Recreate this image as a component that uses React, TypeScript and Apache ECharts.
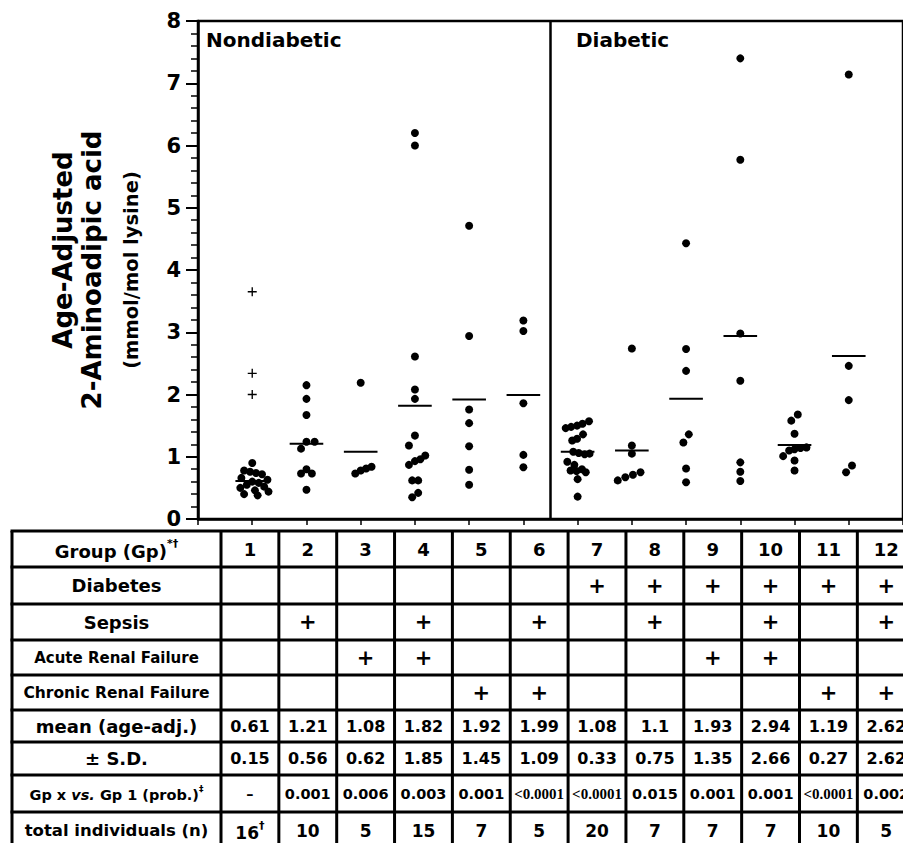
import React, { useEffect, useRef } from "react";
import * as echarts from "echarts";

// ---------- data ----------
const groupNumbers = ["1", "2", "3", "4", "5", "6", "7", "8", "9", "10", "11", "12"];

const groupValues: number[][] = [
  [0.9, 0.78, 0.76, 0.74, 0.72, 0.66, 0.63, 0.6, 0.58, 0.55, 0.52, 0.5, 0.46, 0.44, 0.4, 0.38],
  [2.15, 1.93, 1.67, 1.24, 1.24, 1.13, 0.8, 0.73, 0.73, 0.47],
  [2.19, 0.84, 0.81, 0.78, 0.73],
  [6.2, 6.0, 2.61, 2.08, 1.93, 1.34, 1.18, 1.02, 0.96, 0.93, 0.87, 0.62, 0.62, 0.42, 0.35],
  [4.71, 2.94, 1.76, 1.54, 1.17, 0.79, 0.55],
  [3.19, 3.02, 1.86, 1.03, 0.83],
  [1.57, 1.53, 1.5, 1.48, 1.46, 1.36, 1.29, 1.26, 1.08, 1.06, 1.04, 1.05, 0.92, 0.87, 0.8, 0.78, 0.77, 0.75, 0.64, 0.36],
  [2.74, 1.18, 1.05, 0.75, 0.71, 0.67, 0.62],
  [4.43, 2.73, 2.38, 1.36, 1.23, 0.81, 0.59],
  [7.4, 5.77, 2.98, 2.22, 0.91, 0.76, 0.61],
  [1.68, 1.58, 1.37, 1.15, 1.14, 1.12, 1.1, 1.01, 0.94, 0.78],
  [7.14, 2.46, 1.91, 0.86, 0.75],
];

// horizontal jitter of each point, in group units
const groupOffsets: number[][] = [
  [0, -0.15, -0.04, 0.07, 0.18, -0.2, 0.28, 0, 0.12, -0.1, 0.22, -0.22, 0.05, 0.3, -0.15, 0.1],
  [0, 0, 0, 0, 0.15, -0.1, 0, -0.1, 0.1, 0],
  [0, 0.2, 0.1, 0, -0.1],
  [0, 0, 0, 0, 0, 0, -0.11, 0.19, 0.1, 0, -0.11, -0.05, 0.06, 0.06, -0.05],
  [0, 0, 0, 0, 0, 0, 0],
  [0, 0, 0, 0, 0],
  [0.21, 0.09, -0.01, -0.12, -0.22, 0.1, -0.01, -0.1, -0.08, 0.02, 0.13, 0.22, -0.19, -0.06, 0.08, -0.13, -0.02, 0.15, 0, 0],
  [0, 0, 0, 0.16, 0.02, -0.12, -0.26],
  [0, 0, 0, 0.05, -0.05, 0, 0],
  [0, 0, 0, 0, 0, 0, 0],
  [0.06, -0.06, 0, 0.22, 0.11, 0, -0.1, -0.21, 0, 0],
  [0, 0, 0, 0.06, -0.05],
];

const outliersGroup1 = [3.65, 2.34, 2.0];

const meanValues = [0.61, 1.21, 1.08, 1.82, 1.92, 1.99, 1.08, 1.1, 1.93, 2.94, 1.19, 2.62];
const meanLabels = ["0.61", "1.21", "1.08", "1.82", "1.92", "1.99", "1.08", "1.1", "1.93", "2.94", "1.19", "2.62"];
const sdLabels = ["0.15", "0.56", "0.62", "1.85", "1.45", "1.09", "0.33", "0.75", "1.35", "2.66", "0.27", "2.62"];
const pLabels = ["–", "0.001", "0.006", "0.003", "0.001", "<0.0001", "<0.0001", "0.015", "0.001", "0.001", "<0.0001", "0.002"];
const nLabels = ["16", "10", "5", "15", "7", "5", "20", "7", "7", "7", "10", "5"];

const diabetesFlags = [0, 0, 0, 0, 0, 0, 1, 1, 1, 1, 1, 1];
const sepsisFlags = [0, 1, 0, 1, 0, 1, 0, 1, 0, 1, 0, 1];
const arfFlags = [0, 0, 1, 1, 0, 0, 0, 0, 1, 1, 0, 0];
const crfFlags = [0, 0, 0, 0, 1, 1, 0, 0, 0, 0, 1, 1];

const yTickMax = 8;

// ---------- layout ----------
const FONT = "'DejaVu Sans', sans-serif";
const SERIF = "'Liberation Serif', 'DejaVu Serif', serif";
const W = 903;
const H = 843;
const TABLE_LEFT = 12;
const FIRST_COL_RIGHT = 221;
const COL_W = 57.85;
const ROW_EDGES = [531, 567, 604, 640, 675, 710, 742, 775, 812, 849];

function buildTable(): any[] {
  const els: any[] = [];
  const colEdges: number[] = [TABLE_LEFT];
  for (let i = 0; i <= 12; i++) colEdges.push(FIRST_COL_RIGHT + i * COL_W);
  const lw = 3;
  ROW_EDGES.forEach((y) => {
    els.push({ type: "line", shape: { x1: TABLE_LEFT - 1.5, y1: y, x2: W + 20, y2: y }, style: { stroke: "#000", lineWidth: lw } });
  });
  colEdges.forEach((x) => {
    els.push({ type: "line", shape: { x1: x, y1: ROW_EDGES[0], x2: x, y2: H + 10 }, style: { stroke: "#000", lineWidth: lw } });
  });
  const rowC = (r: number) => (ROW_EDGES[r] + ROW_EDGES[r + 1]) / 2;
  const colC = (c: number) => FIRST_COL_RIGHT + (c + 0.5) * COL_W;
  const labelX = (TABLE_LEFT + FIRST_COL_RIGHT) / 2;
  const txt = (x: number, y: number, style: any) => ({
    type: "text",
    x,
    y,
    style: { fill: "#000", align: "center", verticalAlign: "middle", fontFamily: FONT, fontWeight: "bold", ...style },
  });
  const supRich = (size: number) => ({
    a: { fontSize: size, fontWeight: "bold", fontFamily: FONT, fill: "#000", lineHeight: size + 4, verticalAlign: "bottom" },
    i: { fontSize: size, fontWeight: "bold", fontStyle: "italic", fontFamily: FONT, fill: "#000", lineHeight: size + 4, verticalAlign: "bottom" },
    s: { fontSize: Math.round(size * 0.62), fontWeight: "bold", fontFamily: FONT, fill: "#000", lineHeight: size + 4, verticalAlign: "top" },
  });

  // left labels
  els.push(txt(labelX, rowC(0), { text: "{a|Group (Gp)}{s|*†}", rich: supRich(18) }));
  els.push(txt(labelX, rowC(1), { text: "Diabetes", fontSize: 18 }));
  els.push(txt(labelX, rowC(2), { text: "Sepsis", fontSize: 18 }));
  els.push(txt(labelX, rowC(3), { text: "Acute Renal Failure", fontSize: 15 }));
  els.push(txt(labelX, rowC(4), { text: "Chronic Renal Failure", fontSize: 15.5 }));
  els.push(txt(labelX, rowC(5), { text: "mean (age-adj.)", fontSize: 18 }));
  els.push(txt(labelX, rowC(6), { text: "± S.D.", fontSize: 18 }));
  els.push(txt(labelX, rowC(7), { text: "{a|Gp x }{i|vs.}{a| Gp 1 (prob.)}{s|‡}", rich: supRich(14.5) }));
  els.push(txt(labelX, rowC(8), { text: "total individuals (n)", fontSize: 16.5 }));

  const flagRows = [diabetesFlags, sepsisFlags, arfFlags, crfFlags];
  for (let c = 0; c < 12; c++) {
    const x = colC(c);
    els.push(txt(x, rowC(0), { text: groupNumbers[c], fontSize: 18 }));
    flagRows.forEach((flags, k) => {
      if (flags[c]) els.push(txt(x, rowC(k + 1), { text: "+", fontSize: 21 }));
    });
    els.push(txt(x, rowC(5), { text: meanLabels[c], fontSize: 16 }));
    els.push(txt(x, rowC(6), { text: sdLabels[c], fontSize: 16 }));
    const p = pLabels[c];
    if (p.startsWith("<")) {
      els.push(txt(x, rowC(7), { text: p, fontSize: 15, fontFamily: SERIF, fontWeight: "bold" }));
    } else {
      els.push(txt(x, rowC(7), { text: p, fontSize: 14.5 }));
    }
    if (c === 0) {
      els.push(txt(x, rowC(8), { text: "{a|" + nLabels[c] + "}{s|†}", rich: supRich(17) }));
    } else {
      els.push(txt(x, rowC(8), { text: nLabels[c], fontSize: 17 }));
    }
  }
  return els;
}

function buildOption(): any {
  const dots: number[][] = [];
  groupValues.forEach((vals, gi) => {
    vals.forEach((v, j) => dots.push([gi + 1 + groupOffsets[gi][j], v]));
  });
  const crosses = outliersGroup1.map((v) => [1, v]);
  const means = meanValues.map((m, i) => [i + 1, m]);

  const titleStyle = { fill: "#000", fontFamily: FONT, fontWeight: "bold", align: "center", verticalAlign: "middle" };

  return {
    animation: false,
    backgroundColor: "#fff",
    grid: { left: 198, top: 21, width: 742, height: 498, show: true, borderColor: "#000", borderWidth: 2.5, backgroundColor: "transparent" },
    xAxis: {
      type: "value",
      min: 0,
      max: 13,
      interval: 1,
      axisLine: { show: true, lineStyle: { color: "#000", width: 2.5 } },
      axisTick: { show: true, length: 6, lineStyle: { color: "#000", width: 1.5 } },
      axisLabel: { show: false },
      splitLine: { show: false },
    },
    yAxis: {
      type: "value",
      min: 0,
      max: yTickMax,
      interval: 1,
      axisLine: { show: true, lineStyle: { color: "#000", width: 2.5 } },
      axisTick: { show: true, length: 12, lineStyle: { color: "#000", width: 2 } },
      minorTick: { show: true, splitNumber: 5, length: 7, lineStyle: { color: "#000", width: 1.5 } },
      axisLabel: { color: "#000", fontSize: 21, fontWeight: "bold", fontFamily: FONT, margin: 17 },
      splitLine: { show: false },
      minorSplitLine: { show: false },
    },
    series: [
      {
        type: "scatter",
        data: dots,
        symbol: "circle",
        symbolSize: 8,
        itemStyle: { color: "#000", opacity: 1 },
        silent: true,
        markLine: {
          silent: true,
          symbol: ["none", "none"],
          label: { show: false },
          lineStyle: { color: "#000", width: 2.5, type: "solid", opacity: 1 },
          data: [{ xAxis: 6.5 }],
        },
      },
      {
        type: "scatter",
        data: crosses,
        symbol: "path://M4.25,0H5.75V4.25H10V5.75H5.75V10H4.25V5.75H0V4.25H4.25Z",
        symbolSize: 9,
        itemStyle: { color: "#000", opacity: 1 },
        silent: true,
      },
      {
        type: "custom",
        data: means,
        silent: true,
        renderItem: (_p: any, api: any) => {
          const g = api.value(0);
          const m = api.value(1);
          const a = api.coord([g - 0.31, m]);
          const b = api.coord([g + 0.31, m]);
          return { type: "line", shape: { x1: a[0], y1: a[1], x2: b[0], y2: b[1] }, style: { stroke: "#000", lineWidth: 2 } };
        },
      },
    ],
    graphic: {
      elements: [
        { type: "text", x: 206, y: 40, style: { text: "Nondiabetic", fill: "#000", fontFamily: FONT, fontWeight: "bold", fontSize: 20, verticalAlign: "middle" } },
        { type: "text", x: 576, y: 40, style: { text: "Diabetic", fill: "#000", fontFamily: FONT, fontWeight: "bold", fontSize: 20, verticalAlign: "middle" } },
        { type: "text", x: 63, y: 250, rotation: Math.PI / 2, style: { ...titleStyle, text: "Age-Adjusted", fontSize: 26 } },
        { type: "text", x: 92, y: 270, rotation: Math.PI / 2, style: { ...titleStyle, text: "2-Aminoadipic acid", fontSize: 26 } },
        { type: "text", x: 131, y: 270, rotation: Math.PI / 2, style: { ...titleStyle, text: "(mmol/mol lysine)", fontSize: 19.5 } },
        ...buildTable(),
      ],
    },
  };
}

export default function App() {
  const ref = useRef<HTMLDivElement>(null);
  useEffect(() => {
    if (!ref.current) return;
    const chart = echarts.init(ref.current, null, { renderer: "svg" });
    chart.setOption(buildOption());
    return () => chart.dispose();
  }, []);
  return (
    <div
      ref={ref}
      style={{ position: "fixed", left: 0, top: 0, width: W, height: H, background: "#fff", overflow: "hidden" }}
    />
  );
}
